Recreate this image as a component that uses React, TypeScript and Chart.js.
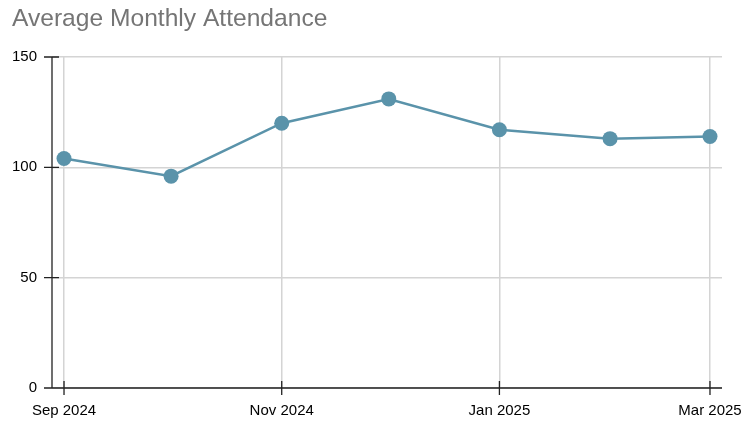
import React, { useEffect, useRef } from "react";
import { Chart, registerables } from "chart.js";

Chart.register(...registerables);

const TITLE = "Average Monthly Attendance";
const monthDates = ["2024-09-01", "2024-10-01", "2024-11-01", "2024-12-01", "2025-01-01", "2025-02-01", "2025-03-01"];
const attendance = [104, 96, 120, 131, 117, 113, 114];
const tickDates = ["2024-09-01", "2024-11-01", "2025-01-01", "2025-03-01"];
const tickLabels = ["Sep 2024", "Nov 2024", "Jan 2025", "Mar 2025"];
const yTicks = [0, 50, 100, 150];

const DAY = 86400000;
const origin = Date.parse(monthDates[0]);
const toDays = (d: string) => (Date.parse(d) - origin) / DAY;

const LINE_COLOR = "#5a93aa";
const FONT = "'Liberation Sans', Arial, sans-serif";

const axesPlugin = {
  id: "customAxes",
  afterDraw(chart: any) {
    const { ctx, chartArea } = chart;
    const { left, right, top, bottom } = chartArea;
    const xs = chart.scales.x;
    const ys = chart.scales.y;
    ctx.save();
    ctx.strokeStyle = "#222";
    ctx.lineWidth = 1.3;
    ctx.beginPath();
    ctx.moveTo(left, top);
    ctx.lineTo(left, bottom);
    ctx.moveTo(left - 8, bottom);
    ctx.lineTo(right, bottom);
    yTicks.forEach((v) => {
      const y = ys.getPixelForValue(v);
      ctx.moveTo(left - 8, y);
      ctx.lineTo(left + 7, y);
    });
    tickDates.forEach((d) => {
      const x = xs.getPixelForValue(toDays(d));
      ctx.moveTo(x, bottom - 7);
      ctx.lineTo(x, bottom + 7);
    });
    ctx.stroke();
    ctx.fillStyle = "#757575";
    ctx.font = `24.6px ${FONT}`;
    ctx.textBaseline = "alphabetic";
    ctx.textAlign = "left";
    ctx.fillText(TITLE, 12, 26);
    ctx.restore();
  },
};

export default function App() {
  const ref = useRef<HTMLCanvasElement>(null);
  useEffect(() => {
    if (!ref.current) return;
    const xMin = toDays(monthDates[0]);
    const xMax = toDays(monthDates[monthDates.length - 1]);
    const pad = (xMax - xMin) * 0.0186;
    const chart = new Chart(ref.current, {
      type: "line",
      data: {
        datasets: [
          {
            label: TITLE,
            data: monthDates.map((d, i) => ({ x: toDays(d), y: attendance[i] })),
            borderColor: LINE_COLOR,
            backgroundColor: LINE_COLOR,
            borderWidth: 2.5,
            pointRadius: 7.5,
            pointBorderWidth: 0,
            pointBackgroundColor: LINE_COLOR,
            tension: 0,
          },
        ],
      },
      plugins: [axesPlugin],
      options: {
        animation: false,
        responsive: false,
        layout: { padding: { top: 57, right: 30, left: 0, bottom: 0 } },
        plugins: { legend: { display: false }, title: { display: false }, tooltip: { enabled: false } },
        scales: {
          x: {
            type: "linear",
            min: xMin - pad,
            max: xMax + pad,
            afterBuildTicks: (scale: any) => {
              scale.ticks = tickDates.map((d) => ({ value: toDays(d) }));
            },
            afterFit: (scale: any) => {
              scale.height = 35;
              scale.paddingLeft = 0;
              scale.paddingRight = 0;
            },
            ticks: {
              autoSkip: false,
              maxRotation: 0,
              padding: 14,
              color: "#000",
              font: { family: FONT, size: 15 },
              callback: (v: any) => {
                const i = tickDates.findIndex((d) => Math.abs(toDays(d) - v) < 0.01);
                return i >= 0 ? tickLabels[i] : "";
              },
            },
            grid: { color: "#d4d4d4", lineWidth: 1.5, drawTicks: false },
            border: { display: false },
          },
          y: {
            min: 0,
            max: 150,
            afterBuildTicks: (scale: any) => {
              scale.ticks = yTicks.map((v) => ({ value: v }));
            },
            afterFit: (scale: any) => {
              scale.width = 52;
              scale.paddingTop = 0;
              scale.paddingBottom = 0;
            },
            ticks: {
              padding: 15,
              color: "#000",
              font: { family: FONT, size: 15 },
            },
            grid: { color: "#d4d4d4", lineWidth: 1.5, drawTicks: false },
            border: { display: false },
          },
        },
      },
    });
    return () => chart.destroy();
  }, []);
  return (
    <div style={{ position: "fixed", left: 0, top: 0, width: 752, height: 423, background: "#fff" }}>
      <canvas ref={ref} width={752} height={423} style={{ display: "block" }} />
    </div>
  );
}
